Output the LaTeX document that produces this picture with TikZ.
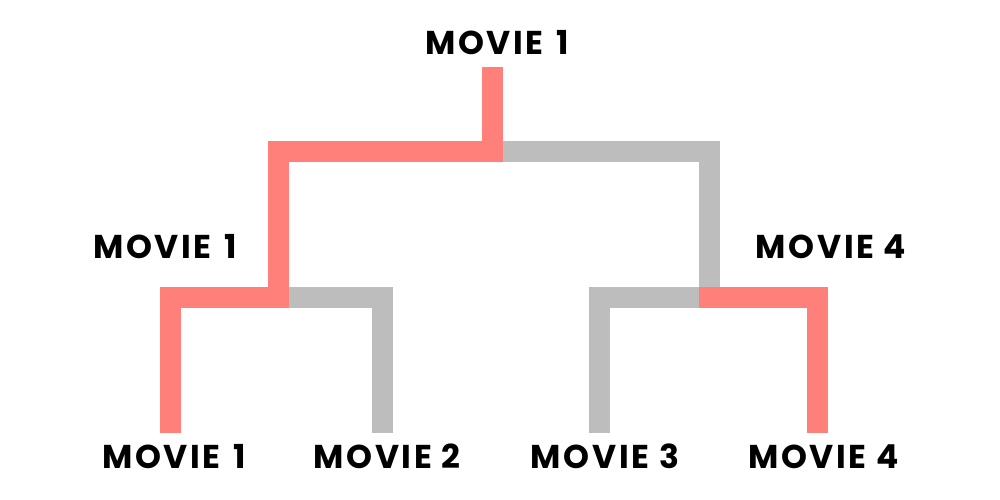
\documentclass[tikz,border=0pt]{standalone}
\usepackage{fontspec}
\setmainfont{Poppins}[UprightFont=* Bold, LetterSpace=8]
\definecolor{winred}{HTML}{FF7F7A}
\definecolor{losegray}{HTML}{BDBDBD}
\newcommand{\onegap}{\kern3pt}
\begin{document}
\begin{tikzpicture}[x=1pt,y=-1pt,
  lbl/.style={anchor=base, inner sep=0pt, font=\fontsize{33}{33}\selectfont},
  win/.style={draw=winred, line width=20.8pt, line cap=butt, line join=miter},
  lose/.style={draw=losegray, line width=20.8pt, line cap=butt, line join=miter}]
\useasboundingbox (0,0) rectangle (1000,500);
% labels
\node[lbl] (top) at (497,55) {MOVIE \onegap1};
\node[lbl] (ml) at (165,258) {MOVIE \onegap1};
\node[lbl] (mr) at (831,258) {MOVIE 4};
\node[lbl] (b1) at (174,468) {MOVIE \onegap1};
\node[lbl] (b2) at (387,468) {MOVIE 2};
\node[lbl] (b3) at (605,468) {MOVIE 3};
\node[lbl] (b4) at (823.5,468) {MOVIE 4};
% junction coordinates
\coordinate (t0) at (492.4,66.7);
\coordinate (tj) at (492.4,151.5);
\coordinate (lj) at (278.6,151.5);
\coordinate (rj) at (709.5,151.5);
\coordinate (lm) at (278.6,297.2);
\coordinate (rm) at (709.5,297.2);
\coordinate (rmstart) at (699.1,297.2);
\coordinate (l1) at (170.4,297.2);
\coordinate (l2) at (382.3,297.2);
\coordinate (r3) at (599.5,297.2);
\coordinate (r4) at (817.3,297.2);
\coordinate (e1) at (170.4,433.3);
\coordinate (e2) at (382.3,433.3);
\coordinate (e3) at (599.5,433.3);
\coordinate (e4) at (817.3,433.3);
% losers
\draw[lose] (tj) -- (rj) -- (rm) -- (r3) -- (e3);
\draw[lose] (lm) -- (l2) -- (e2);
% winners
\draw[win] (t0) -- (tj) -- (lj) -- (lm) -- (l1) -- (e1);
\draw[win] (rmstart) -- (r4) -- (e4);
\end{tikzpicture}
\end{document}
